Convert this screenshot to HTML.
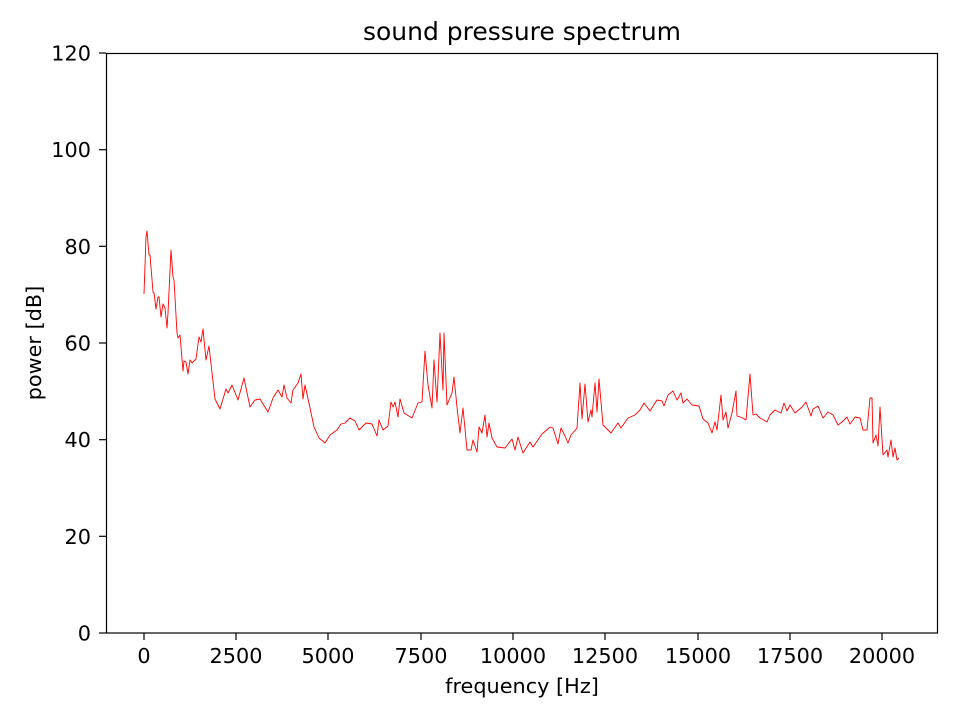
<!DOCTYPE html>
<html><head><meta charset="utf-8"><style>body{margin:0;background:#fff}svg{display:block}</style></head>
<body>
<svg width="960" height="720" xmlns="http://www.w3.org/2000/svg" font-family="DejaVu Sans, Liberation Sans, sans-serif">
<rect width="960" height="720" fill="#fff"/>
<polyline fill="none" stroke="#ff0000" stroke-width="0.9" stroke-linejoin="round" points="144,294 146,237 147,231 149,255 150,255 153,292 154,293 156,309 158,297 159,297 161,317 163,304 165,308 167,328 168,313 171,250 173,277 174,280 177,333 178,338 180,335 183,371 184,361 186,362 188,374 190,360 192,363 196,359 199,337 201,342 203,329 206,360 209,346 215,399 220,409 226,389 228,393 232,385 238,400 244,378 250,407 255,400 260,399 268,412 273,398 278,390 282,397 284,385 287,398 291,403 293,390 298,383 301,374 303,399 305,385 310,408 314,427 319,438 325,443 330,435 337,430 341,424 345,423 350,418 355,421 359,430 366,423 372,424 377,436 379,420 383,430 388,426 391,402 393,407 395,402 398,417 400,399 404,413 412,418 418,403 422,402 425,351 428,385 432,408 434,360 437,402 440,333 443,390 444,333 447,405 452,393 454,377 457,407 460,433 463,408 467,450 471,450 473,440 477,452 479,427 482,433 485,415 487,437 489,423 492,438 497,447 505,448 512,439 515,450 518,437 523,453 530,442 533,447 542,434 550,427 553,428 558,444 561,428 565,436 568,443 571,435 577,428 580,383 582,419 585,384 588,422 591,410 592,417 595,383 597,412 599,379 603,425 611,433 618,423 621,428 628,418 635,415 640,410 644,403 650,411 657,400 662,401 664,406 668,395 673,391 677,400 681,393 683,403 687,399 692,405 699,406 703,419 708,423 712,433 715,422 717,430 721,395 723,420 726,412 728,428 732,413 736,391 737,416 743,418 746,420 750,374 753,415 756,414 760,418 767,422 770,415 775,410 781,413 784,403 787,411 790,405 795,413 802,407 806,402 811,416 813,409 818,406 823,418 828,412 833,415 838,425 842,422 847,417 850,424 855,417 860,418 863,430 867,430 870,398 872,398 873,443 876,435 878,446 880,407 883,455 887,450 888,457 891,440 893,457 895,448 897,460 899,458"/>
<rect x="106.5" y="53.5" width="831" height="579.5" fill="none" stroke="#000" stroke-width="1.2"/>
<g stroke="#000" stroke-width="1.2">
<line x1="144" y1="633" x2="144" y2="640"/><line x1="236" y1="633" x2="236" y2="640"/><line x1="328" y1="633" x2="328" y2="640"/><line x1="421" y1="633" x2="421" y2="640"/><line x1="513" y1="633" x2="513" y2="640"/><line x1="605" y1="633" x2="605" y2="640"/><line x1="698" y1="633" x2="698" y2="640"/><line x1="790" y1="633" x2="790" y2="640"/><line x1="882" y1="633" x2="882" y2="640"/>
<line x1="99" y1="633" x2="106" y2="633"/><line x1="99" y1="536.3" x2="106" y2="536.3"/><line x1="99" y1="439.7" x2="106" y2="439.7"/><line x1="99" y1="343" x2="106" y2="343"/><line x1="99" y1="246.3" x2="106" y2="246.3"/><line x1="99" y1="149.7" x2="106" y2="149.7"/><line x1="99" y1="53" x2="106" y2="53"/>
</g>
<g font-size="20.8" text-anchor="middle" fill="#000">
<text x="144" y="663">0</text><text x="236" y="663">2500</text><text x="328" y="663">5000</text><text x="421" y="663">7500</text><text x="513" y="663">10000</text><text x="605" y="663">12500</text><text x="698" y="663">15000</text><text x="790" y="663">17500</text><text x="882" y="663">20000</text>
</g>
<g font-size="20.8" text-anchor="end" fill="#000">
<text x="91" y="640.5">0</text><text x="91" y="543.8">20</text><text x="91" y="447.2">40</text><text x="91" y="350.5">60</text><text x="91" y="253.8">80</text><text x="91" y="157.2">100</text><text x="91" y="60.5">120</text>
</g>
<text x="522" y="693" font-size="20.8" text-anchor="middle">frequency [Hz]</text>
<text x="41" y="343" font-size="20.8" text-anchor="middle" transform="rotate(-90 41 343)">power [dB]</text>
<text x="522" y="40" font-size="25" text-anchor="middle">sound pressure spectrum</text>
</svg>
</body></html>
